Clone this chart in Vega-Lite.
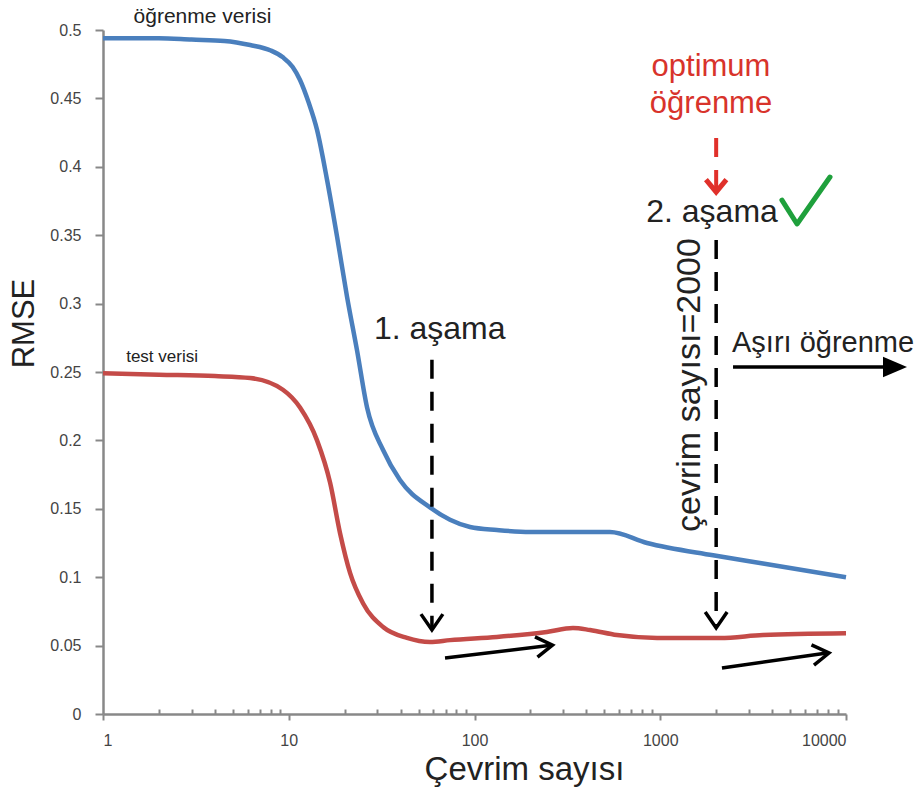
{
  "$schema": "https://vega.github.io/schema/vega-lite/v6.json",
  "autosize": "none",
  "width": 743,
  "height": 684,
  "padding": {"left": 103, "top": 30, "right": 70, "bottom": 82},
  "background": "white",
  "config": {"view": {"stroke": null}, "font": "Liberation Sans"},
  "datasets": {
    "curves": [
      {"series": "öğrenme", "x": 1, "y": 0.494},
      {"series": "öğrenme", "x": 2, "y": 0.494},
      {"series": "öğrenme", "x": 3, "y": 0.493},
      {"series": "öğrenme", "x": 4.5, "y": 0.492},
      {"series": "öğrenme", "x": 6.2, "y": 0.489},
      {"series": "öğrenme", "x": 8, "y": 0.485},
      {"series": "öğrenme", "x": 9.3, "y": 0.48},
      {"series": "öğrenme", "x": 10.5, "y": 0.473},
      {"series": "öğrenme", "x": 11.5, "y": 0.4635},
      {"series": "öğrenme", "x": 12.8, "y": 0.447},
      {"series": "öğrenme", "x": 14.2, "y": 0.427},
      {"series": "öğrenme", "x": 16.1, "y": 0.39},
      {"series": "öğrenme", "x": 18.2, "y": 0.349},
      {"series": "öğrenme", "x": 20.6, "y": 0.305},
      {"series": "öğrenme", "x": 23.3, "y": 0.266},
      {"series": "öğrenme", "x": 26.4, "y": 0.224},
      {"series": "öğrenme", "x": 32.2, "y": 0.193},
      {"series": "öğrenme", "x": 39.7, "y": 0.171},
      {"series": "öğrenme", "x": 57.6, "y": 0.151},
      {"series": "öğrenme", "x": 73.8, "y": 0.142},
      {"series": "öğrenme", "x": 94.6, "y": 0.1367},
      {"series": "öğrenme", "x": 132, "y": 0.1345},
      {"series": "öğrenme", "x": 199, "y": 0.133},
      {"series": "öğrenme", "x": 536, "y": 0.133},
      {"series": "öğrenme", "x": 849, "y": 0.125},
      {"series": "öğrenme", "x": 1924, "y": 0.116},
      {"series": "öğrenme", "x": 3573, "y": 0.11},
      {"series": "öğrenme", "x": 10000, "y": 0.1},
      {"series": "test", "x": 1, "y": 0.249},
      {"series": "test", "x": 2, "y": 0.248},
      {"series": "test", "x": 4, "y": 0.247},
      {"series": "test", "x": 6.2, "y": 0.2456},
      {"series": "test", "x": 9.3, "y": 0.237},
      {"series": "test", "x": 11.5, "y": 0.224},
      {"series": "test", "x": 14.2, "y": 0.2},
      {"series": "test", "x": 16.7, "y": 0.169},
      {"series": "test", "x": 18.9, "y": 0.132},
      {"series": "test", "x": 21.4, "y": 0.103},
      {"series": "test", "x": 25.1, "y": 0.081},
      {"series": "test", "x": 32.2, "y": 0.0636},
      {"series": "test", "x": 43.3, "y": 0.0556},
      {"series": "test", "x": 57.6, "y": 0.0526},
      {"series": "test", "x": 73.8, "y": 0.054},
      {"series": "test", "x": 132, "y": 0.0563},
      {"series": "test", "x": 245, "y": 0.06},
      {"series": "test", "x": 339, "y": 0.0629},
      {"series": "test", "x": 419, "y": 0.0614},
      {"series": "test", "x": 585, "y": 0.0577},
      {"series": "test", "x": 961, "y": 0.0556},
      {"series": "test", "x": 2099, "y": 0.0556},
      {"series": "test", "x": 3573, "y": 0.0577},
      {"series": "test", "x": 10000, "y": 0.059}
    ],
    "segments": [
      {"kind": "dash", "x": 59, "y": 0.259, "x2": 59, "y2": 0.063},
      {"kind": "dash", "x": 2000, "y": 0.3465, "x2": 2000, "y2": 0.065},
      {"kind": "reddash", "x": 2000, "y": 0.4211, "x2": 2000, "y2": 0.384},
      {"kind": "small", "x": 69.4, "y": 0.0409, "x2": 258, "y2": 0.0502},
      {"kind": "small", "x": 2149, "y": 0.0336, "x2": 7900, "y2": 0.0446},
      {"kind": "big", "x": 2465, "y": 0.2537, "x2": 17260, "y2": 0.2537}
    ],
    "heads": [
      {"kind": "down", "x": 59, "y": 0.0614},
      {"kind": "down", "x": 2000, "y": 0.0629},
      {"kind": "reddown", "x": 2000, "y": 0.3816},
      {"kind": "right", "x": 263, "y": 0.0504},
      {"kind": "right", "x": 8100, "y": 0.0446},
      {"kind": "bigright", "x": 21300, "y": 0.2537}
    ],
    "check": [
      {"x": 4520, "y": 0.3757},
      {"x": 5450, "y": 0.3582},
      {"x": 8200, "y": 0.3925}
    ],
    "labels": [
      {"kind": "top", "text": "öğrenme verisi", "x": 3.43, "y": 0.5053},
      {"kind": "test", "text": "test verisi", "x": 2.08, "y": 0.2575},
      {"kind": "big", "text": "1. aşama", "x": 65, "y": 0.2741},
      {"kind": "big", "text": "2. aşama", "x": 1900, "y": 0.3596},
      {"kind": "red", "text": "optimum", "x": 1876, "y": 0.4664},
      {"kind": "red", "text": "öğrenme", "x": 1876, "y": 0.4393},
      {"kind": "left", "text": "Aşırı öğrenme", "x": 2434, "y": 0.2646},
      {"kind": "rot", "text": "çevrim sayısı=2000", "x": 1637, "y": 0.2405}
    ]
  },
  "encoding": {
    "x": {
      "field": "x", "type": "quantitative",
      "scale": {"type": "log", "domain": [1, 10000], "nice": false},
      "axis": {
        "title": "Çevrim sayısı",
        "titleFontSize": 33, "titleFontWeight": "normal", "titleColor": "#222",
        "titleX": 421, "titleY": 65, "titleAlign": "center", "titleBaseline": "alphabetic", "titleAnchor": null,
        "values": [1,2,3,4,5,6,7,8,9,10,20,30,40,50,60,70,80,90,100,200,300,400,500,600,700,800,900,1000,2000,3000,4000,5000,6000,7000,8000,9000,10000],
        "format": "d",
        "labelExpr": "indexof([1,10,100,1000,10000], datum.value) >= 0 ? datum.label : ''",
        "labelFontSize": 16, "labelColor": "#444", "labelPadding": 12,
        "domainColor": "#888", "domainWidth": 2.5, "tickColor": "#888", "tickWidth": 2,
        "tickSize": {"condition": {"test": "indexof([1,10,100,1000,10000], datum.value) >= 0", "value": 6}, "value": -5},
        "grid": false
      }
    },
    "y": {
      "field": "y", "type": "quantitative",
      "scale": {"domain": [0, 0.5], "nice": false, "zero": true},
      "axis": {
        "title": "RMSE",
        "titleFontSize": 31, "titleFontWeight": "normal", "titleColor": "#222",
        "titleX": -79, "titleY": 293, "titleAlign": "center", "titleBaseline": "middle", "titleAngle": 270, "titleAnchor": null,
        "values": [0, 0.05, 0.1, 0.15, 0.2, 0.25, 0.3, 0.35, 0.4, 0.45, 0.5],
        "format": ".2~f",
        "labelFontSize": 16, "labelColor": "#444", "labelPadding": 14,
        "domainColor": "#888", "domainWidth": 2.5, "tickColor": "#888", "tickWidth": 2, "tickSize": 8,
        "grid": false
      }
    }
  },
  "layer": [
    {
      "data": {"name": "curves"},
      "mark": {"type": "line", "interpolate": "monotone", "strokeWidth": 4.5, "clip": false},
      "encoding": {
        "color": {"field": "series", "type": "nominal", "scale": {"domain": ["öğrenme", "test"], "range": ["#4a7fbd", "#c44b48"]}, "legend": null}
      }
    },
    {
      "data": {"name": "segments"},
      "transform": [{"filter": "datum.kind === 'dash'"}],
      "mark": {"type": "rule", "color": "black", "strokeWidth": 3.5, "strokeDash": [19, 13]},
      "encoding": {"x2": {"field": "x2"}, "y2": {"field": "y2"}}
    },
    {
      "data": {"name": "segments"},
      "transform": [{"filter": "datum.kind === 'reddash'"}],
      "mark": {"type": "rule", "color": "#e0302a", "strokeWidth": 4, "strokeDash": [19, 13]},
      "encoding": {"x2": {"field": "x2"}, "y2": {"field": "y2"}}
    },
    {
      "data": {"name": "segments"},
      "transform": [{"filter": "datum.kind === 'small' || datum.kind === 'big'"}],
      "mark": {"type": "rule", "color": "black", "strokeWidth": 3.5},
      "encoding": {"x2": {"field": "x2"}, "y2": {"field": "y2"}}
    },
    {
      "data": {"name": "heads"},
      "transform": [{"filter": "datum.kind === 'down'"}],
      "mark": {"type": "point", "shape": "M-1,-1.45L0,0L1,-1.45", "filled": false, "stroke": "black", "strokeWidth": 3.5, "size": 480, "opacity": 1},
      "encoding": {}
    },
    {
      "data": {"name": "heads"},
      "transform": [{"filter": "datum.kind === 'reddown'"}],
      "mark": {"type": "point", "shape": "M-1,-1.2L0,0L1,-1.2", "filled": false, "stroke": "#e0302a", "strokeWidth": 5, "size": 420, "opacity": 1},
      "encoding": {}
    },
    {
      "data": {"name": "heads"},
      "transform": [{"filter": "datum.kind === 'right'"}],
      "mark": {"type": "point", "shape": "M-1.6,-1L0,0L-1.6,1", "filled": false, "stroke": "black", "strokeWidth": 3.5, "size": 420, "angle": -7, "opacity": 1},
      "encoding": {}
    },
    {
      "data": {"name": "heads"},
      "transform": [{"filter": "datum.kind === 'bigright'"}],
      "mark": {"type": "point", "shape": "M-2,-0.85L0,0L-2,0.85Z", "filled": true, "color": "black", "size": 576, "opacity": 1},
      "encoding": {}
    },
    {
      "data": {"name": "check"},
      "mark": {"type": "line", "color": "#1fa03c", "strokeWidth": 5, "strokeCap": "round", "strokeJoin": "round"},
      "encoding": {}
    },
    {
      "data": {"name": "labels"},
      "transform": [{"filter": "datum.kind === 'top'"}],
      "mark": {"type": "text", "fontSize": 21, "color": "#222", "align": "center", "baseline": "alphabetic"},
      "encoding": {"text": {"field": "text"}}
    },
    {
      "data": {"name": "labels"},
      "transform": [{"filter": "datum.kind === 'test'"}],
      "mark": {"type": "text", "fontSize": 17, "color": "#222", "align": "center", "baseline": "alphabetic"},
      "encoding": {"text": {"field": "text"}}
    },
    {
      "data": {"name": "labels"},
      "transform": [{"filter": "datum.kind === 'big'"}],
      "mark": {"type": "text", "fontSize": 32, "color": "#222", "align": "center", "baseline": "alphabetic"},
      "encoding": {"text": {"field": "text"}}
    },
    {
      "data": {"name": "labels"},
      "transform": [{"filter": "datum.kind === 'red'"}],
      "mark": {"type": "text", "fontSize": 31, "color": "#d8332b", "align": "center", "baseline": "alphabetic"},
      "encoding": {"text": {"field": "text"}}
    },
    {
      "data": {"name": "labels"},
      "transform": [{"filter": "datum.kind === 'left'"}],
      "mark": {"type": "text", "fontSize": 29, "color": "#222", "align": "left", "baseline": "alphabetic"},
      "encoding": {"text": {"field": "text"}}
    },
    {
      "data": {"name": "labels"},
      "transform": [{"filter": "datum.kind === 'rot'"}],
      "mark": {"type": "text", "fontSize": 34, "color": "#222", "align": "center", "baseline": "alphabetic", "angle": 270},
      "encoding": {"text": {"field": "text"}}
    }
  ]
}
